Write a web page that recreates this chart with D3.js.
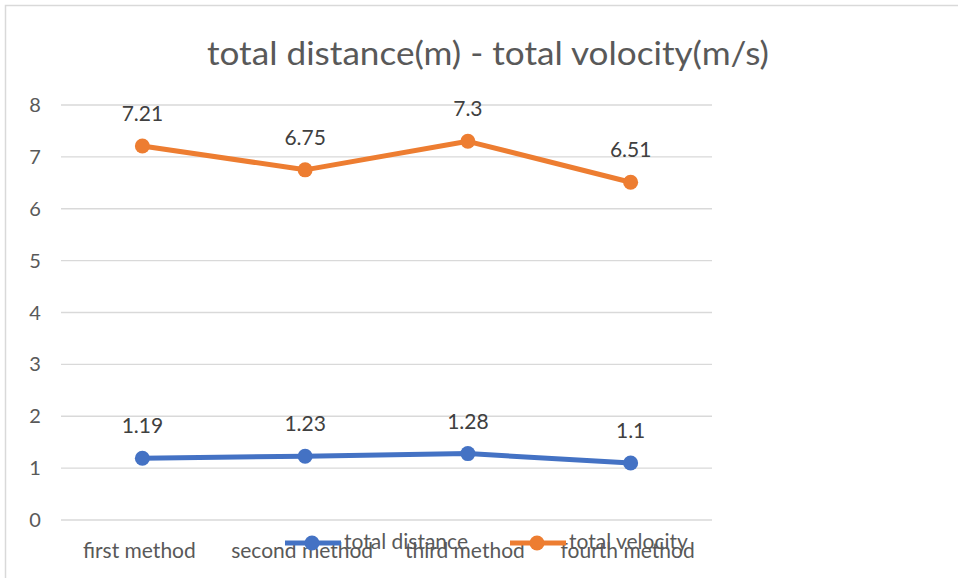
<!DOCTYPE html>
<html><head><meta charset="utf-8">
<script src="https://cdn.jsdelivr.net/npm/d3@7"></script>
<style>body{margin:0;background:#fff}svg{display:block}</style>
</head><body>
<script>
const categories = ["first method","second method","third method","fourth method"];
const distance = [1.19,1.23,1.28,1.1];
const velocity = [7.21,6.75,7.3,6.51];
const yTicks = [0,1,2,3,4,5,6,7,8];
const seriesNames = ["total distance","total velocity"];
const colors = ["#4472C4","#ED7D31"];

const W=958,H=578;
const svg=d3.select("body").append("svg").attr("width",W).attr("height",H);
svg.append("rect").attr("x",5.5).attr("y",5.5).attr("width",W+10).attr("height",H+10)
  .attr("fill","#fff").attr("stroke","#d9d9d9").attr("stroke-width",1.5);

const font="Lato, 'Open Sans', sans-serif";
const x=d3.scaleBand().domain(categories).range([61,712]);
const y=d3.scaleLinear().domain([0,8]).range([520,105]);

svg.append("text").attr("x",488).attr("y",65).attr("text-anchor","middle")
  .attr("font-family",font).attr("font-size",33).attr("fill","#595959")
  .attr("textLength",562).attr("lengthAdjust","spacingAndGlyphs")
  .text("total distance(m) - total volocity(m/s)");

const g=svg.append("g");
g.selectAll("line.grid").data(yTicks).enter().append("line")
  .attr("x1",61).attr("x2",712).attr("y1",d=>y(d)).attr("y2",d=>y(d))
  .attr("stroke","#d9d9d9").attr("stroke-width",1.3);
g.selectAll("text.yl").data(yTicks).enter().append("text")
  .attr("x",35).attr("y",d=>y(d)+7).attr("text-anchor","middle")
  .attr("font-family",font).attr("font-size",20).attr("fill","#595959").text(d=>d);
g.selectAll("text.xl").data(categories).enter().append("text")
  .attr("x",d=>x(d)+x.bandwidth()/2-3).attr("y",558).attr("text-anchor","middle")
  .attr("font-family",font).attr("font-size",21).attr("fill","#595959").text(d=>d);

const line=d3.line().x((d,i)=>x(categories[i])+x.bandwidth()/2).y(d=>y(d));
[distance,velocity].forEach((s,k)=>{
  g.append("path").datum(s).attr("d",line).attr("fill","none")
   .attr("stroke",colors[k]).attr("stroke-width",5).attr("stroke-linejoin","round");
  g.selectAll(null).data(s).enter().append("circle")
   .attr("cx",(d,i)=>x(categories[i])+x.bandwidth()/2).attr("cy",d=>y(d)).attr("r",7.5)
   .attr("fill",colors[k]);
  g.selectAll(null).data(s).enter().append("text")
   .attr("x",(d,i)=>x(categories[i])+x.bandwidth()/2).attr("y",d=>y(d)-25)
   .attr("text-anchor","middle").attr("font-family",font).attr("font-size",21)
   .attr("fill","#404040").text(d=>d);
});

const legX=[285,510];
seriesNames.forEach((n,k)=>{
  const lg=svg.append("g").attr("transform",`translate(${legX[k]},543)`);
  lg.append("line").attr("x1",0).attr("x2",56).attr("stroke",colors[k]).attr("stroke-width",5);
  lg.append("circle").attr("cx",27).attr("r",7.5).attr("fill",colors[k]);
  lg.append("text").attr("x",59).attr("y",6).attr("font-family",font).attr("font-size",21)
    .attr("fill","#595959").text(n);
});
</script>
</body></html>
